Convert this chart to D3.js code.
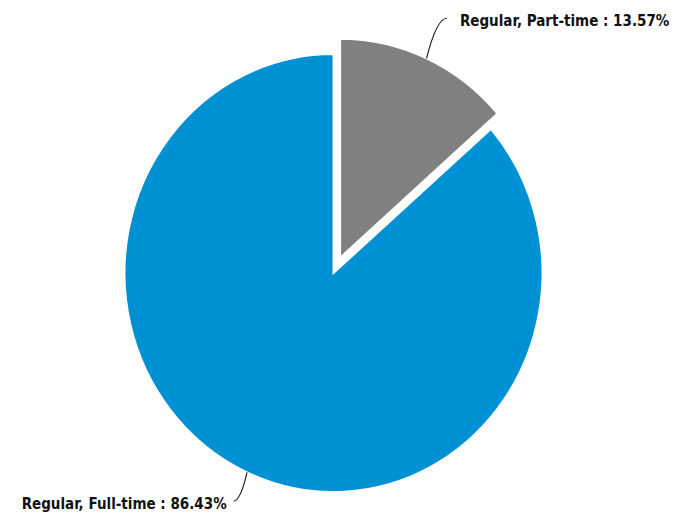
<!DOCTYPE html>
<html>
<head>
<meta charset="utf-8">
<script src="https://cdn.jsdelivr.net/npm/d3@7"></script>
<style>
  html, body { margin: 0; padding: 0; background: #fff; }
  svg { display: block; }
  .label { font-family: "DejaVu Sans", sans-serif; font-stretch: condensed; font-weight: bold; font-size: 15px; fill: #111; }
</style>
</head>
<body>
<svg id="chart" width="678" height="514"></svg>
<script>
// Employment type shares (percent)
const categories = ["Regular, Part-time", "Regular, Full-time"];
const values = [13.57, 86.43];
const colors = ["#808080", "#0090d4"];

const width = 678, height = 514;
const cx = 333.5, cy = 273;
const radius = 209;
const yStretch = 219 / 209;   // the plot area is slightly taller than wide
const explode = 16;           // part-time slice pulled out

const svg = d3.select("#chart");

const pie = d3.pie().sort(null).value(d => d.value);
const arcs = pie(categories.map((c, i) => ({ name: c, value: values[i], color: colors[i] })));
const arc = d3.arc().innerRadius(0).outerRadius(radius);

const g = svg.append("g")
  .attr("transform", `translate(${cx},${cy}) scale(1,${yStretch})`);

function offsetFor(d, i) {
  const a = (d.startAngle + d.endAngle) / 2;
  const k = i === 0 ? explode : 0;
  return [Math.sin(a) * k, -Math.cos(a) * k];
}

g.selectAll("path.slice")
  .data(arcs)
  .join("path")
  .attr("class", "slice")
  .attr("d", arc)
  .attr("transform", (d, i) => { const o = offsetFor(d, i); return `translate(${o[0]},${o[1]})`; })
  .attr("fill", d => d.data.color)
  .attr("stroke", "#fff")
  .attr("stroke-width", 2);

// Leader lines and labels, in screen coordinates
const labels = svg.append("g");
arcs.forEach((d, i) => {
  const a = (d.startAngle + d.endAngle) / 2;
  const o = offsetFor(d, i);
  const ux = Math.sin(a), uy = -Math.cos(a) * yStretch;
  const sx = cx + o[0] + radius * ux;
  const sy = cy + o[1] * yStretch + radius * uy;
  let t = 42;
  let ey = sy + t * uy;
  const maxY = height - 13;
  if (ey > maxY) { t = (maxY - sy) / uy; ey = maxY; }
  const right = ux >= 0;
  const ex = sx + t * ux + (right ? 3 : -1);
  const p = d3.path();
  p.moveTo(sx, sy);
  p.quadraticCurveTo(sx + (ex - sx) * 0.5, ey, ex, ey);
  labels.append("path")
    .attr("d", p.toString())
    .attr("fill", "none")
    .attr("stroke", "#222")
    .attr("stroke-width", 1.2);
  labels.append("text")
    .attr("class", "label")
    .attr("x", right ? ex + 13 : ex - 7)
    .attr("y", ey + 8)
    .attr("text-anchor", right ? "start" : "end")
    .text(`${d.data.name} : ${d3.format(".2f")(d.data.value)}%`);
});
</script>
</body>
</html>
